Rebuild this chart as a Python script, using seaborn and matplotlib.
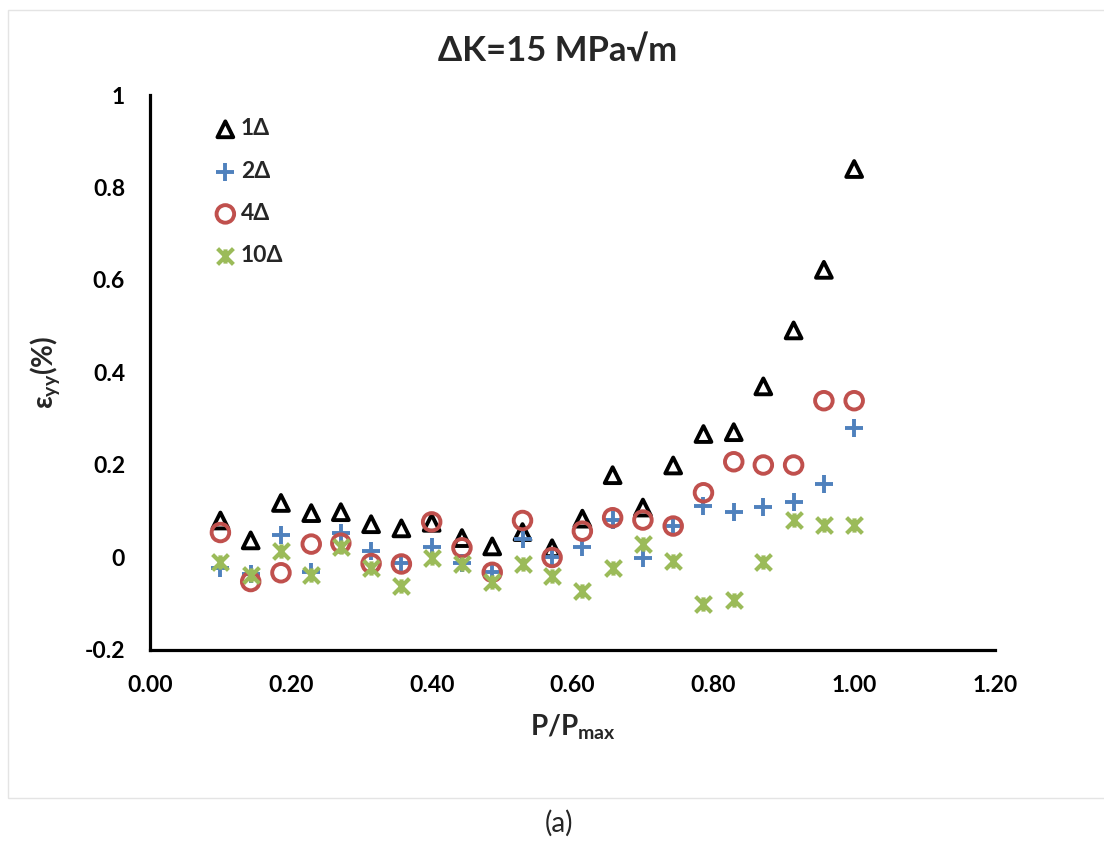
import matplotlib
matplotlib.use("Agg")
import matplotlib.pyplot as plt
from matplotlib.path import Path
from matplotlib.patches import Rectangle
from matplotlib.ticker import FixedLocator, FuncFormatter
import pandas as pd
import seaborn as sns

# Normalised load P/Pmax at each measurement step
load_ratio = [0.100, 0.143, 0.186, 0.229, 0.271, 0.314, 0.357, 0.400, 0.443, 0.486, 0.529,
              0.571, 0.614, 0.657, 0.700, 0.743, 0.786, 0.829, 0.871, 0.914, 0.957, 1.000]

# Strain eyy (%) at increasing distances behind the crack tip
strain_1d = [0.080, 0.037, 0.118, 0.096, 0.098, 0.072, 0.063, 0.075, 0.042, 0.024, 0.055,
             0.020, 0.084, 0.178, 0.108, 0.199, 0.267, 0.271, 0.370, 0.491, 0.622, 0.840]
strain_2d = [-0.023, -0.036, 0.049, -0.031, 0.052, 0.013, -0.011, 0.023, -0.011, -0.031, 0.041,
             0.002, 0.023, 0.081, -0.002, 0.068, 0.112, 0.099, 0.110, 0.121, 0.160, 0.279]
strain_4d = [0.054, -0.052, -0.033, 0.029, 0.031, -0.013, -0.014, 0.077, 0.021, -0.032, 0.080,
             0.000, 0.057, 0.086, 0.081, 0.068, 0.140, 0.207, 0.200, 0.200, 0.339, 0.339]
strain_10d = [-0.009, -0.038, 0.013, -0.038, 0.023, -0.023, -0.062, -0.002, -0.013, -0.052, -0.013,
              -0.040, -0.072, -0.022, 0.029, -0.008, -0.100, -0.092, -0.009, 0.081, 0.070, 0.070]

series_labels = ["1Δ", "2Δ", "4Δ", "10Δ"]
x_ticks = [0.0, 0.2, 0.4, 0.6, 0.8, 1.0, 1.2]
y_ticks = [-0.2, 0.0, 0.2, 0.4, 0.6, 0.8, 1.0]

sns.set_theme(style="white")
FONT = ["Lato", "DejaVu Sans"]
plt.rcParams["font.family"] = FONT
plt.rcParams["axes.unicode_minus"] = False
plt.rcParams["mathtext.fontset"] = "custom"
plt.rcParams["mathtext.rm"] = "Lato:bold"
plt.rcParams["mathtext.it"] = "Lato:bold"
plt.rcParams["mathtext.bf"] = "Lato:bold"

W, H = 1104, 843
fig = plt.figure(figsize=(W / 100, H / 100), dpi=100)
fig.patch.set_facecolor("white")

# light outline of the chart area
fig.patches.append(Rectangle((8 / W, 1 - 798 / H), (W + 10 - 8) / W, (798 - 10) / H,
                             transform=fig.transFigure, fill=False,
                             edgecolor="#E4E4E4", linewidth=1.0))

ax = fig.add_axes([150 / W, 1 - 650 / H, (995 - 150) / W, (650 - 95) / H])
ax.set_facecolor("none")

df = pd.DataFrame({"x": load_ratio, "s1": strain_1d, "s2": strain_2d,
                   "s4": strain_4d, "s10": strain_10d})

# asterisk-style marker: an X crossed by a short vertical stroke
star = Path([(-1, -1), (1, 1), (-1, 1), (1, -1), (0, -0.9), (0, 0.9)],
            [Path.MOVETO, Path.LINETO, Path.MOVETO, Path.LINETO, Path.MOVETO, Path.LINETO])

sns.scatterplot(data=df, x="x", y="s1", marker="^", s=130, facecolor="none",
                edgecolor="black", linewidth=2.8, label=series_labels[0], ax=ax, zorder=3)
sns.scatterplot(data=df, x="x", y="s2", marker="+", s=150, color="#4F81BD",
                edgecolor="#4F81BD", linewidth=2.8, label=series_labels[1], ax=ax, zorder=4)
sns.scatterplot(data=df, x="x", y="s4", marker="o", s=160, facecolor="none",
                edgecolor="#C0504D", linewidth=2.8, label=series_labels[2], ax=ax, zorder=5)
sns.scatterplot(data=df, x="x", y="s10", marker=star, s=130, color="#9BBB59",
                edgecolor="#9BBB59", linewidth=3.0, label=series_labels[3], ax=ax, zorder=6)

ax.set_xlim(0, 1.2)
ax.set_ylim(-0.2, 1.0)
ax.xaxis.set_major_locator(FixedLocator(x_ticks))
ax.yaxis.set_major_locator(FixedLocator(y_ticks))
ax.xaxis.set_major_formatter(FuncFormatter(lambda v, p: f"{v:.2f}"))
ax.yaxis.set_major_formatter(FuncFormatter(lambda v, p: f"{v:g}" if abs(v) > 1e-9 else "0"))

for side in ("top", "right"):
    ax.spines[side].set_visible(False)
for side in ("left", "bottom"):
    ax.spines[side].set_linewidth(2.3)
    ax.spines[side].set_color("black")

ax.tick_params(axis="both", direction="in", length=4.5, width=1.9, color="black",
               labelsize=16.5, labelcolor="black")
ax.tick_params(axis="y", pad=18)
ax.tick_params(axis="x", pad=18)
for lab in ax.get_xticklabels() + ax.get_yticklabels():
    lab.set_fontweight("bold")
    lab.set_family(FONT)

ax.set_xlabel("P/P$_{\\mathregular{max}}$", fontsize=20, fontweight="bold", labelpad=12)
ax.set_ylabel("ε$_{\\mathregular{yy}}$(%)", fontsize=20, fontweight="bold", labelpad=16)

leg = ax.legend(loc="upper left", bbox_to_anchor=(0.079, 0.958), frameon=False,
                handlelength=0.75, handletextpad=0.3, labelspacing=0.93,
                borderpad=0, borderaxespad=0,
                prop={"family": FONT, "weight": "bold", "size": 16.5})

fig.text(558 / W, 1 - 51 / H, "ΔK=15 MPa√m", ha="center", va="center",
         fontsize=25, fontweight="bold", family=FONT)
fig.text(559 / W, 1 - 823 / H, "(a)", ha="center", va="center", fontsize=20, family=FONT)

fig.savefig("out.png", dpi=100, facecolor="white")
